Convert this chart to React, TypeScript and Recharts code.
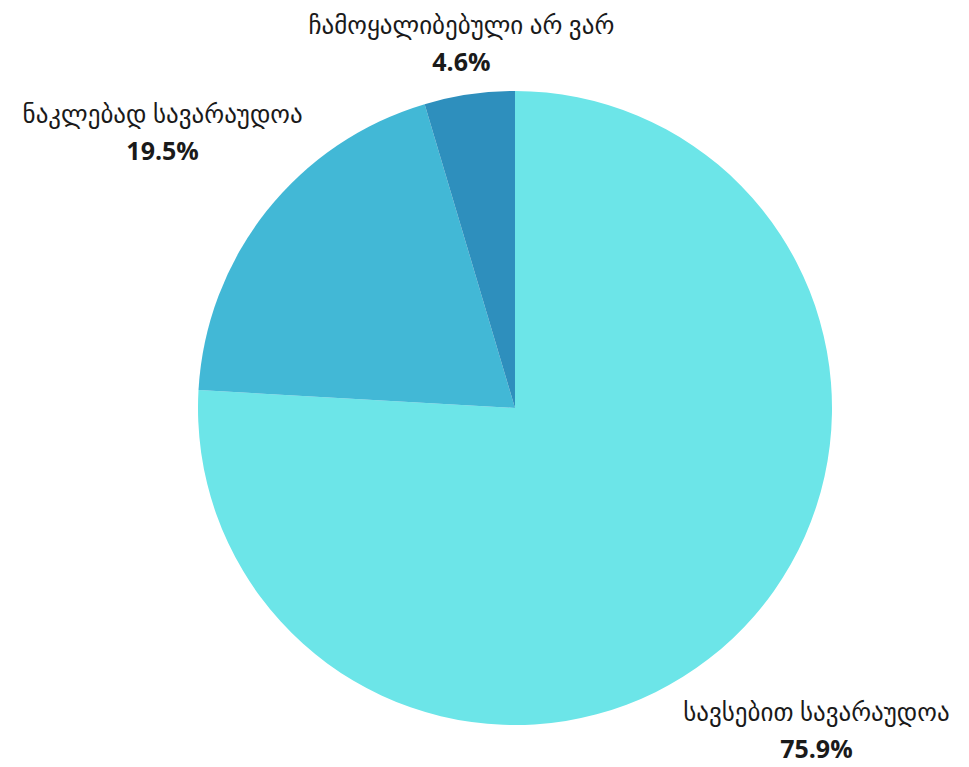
import React from "react";
import { PieChart, Pie, Cell } from "recharts";

const categories = [
  "სავსებით სავარაუდოა",
  "ნაკლებად სავარაუდოა",
  "ჩამოყალიბებული არ ვარ",
];
const values = [75.9, 19.5, 4.6];
const colors = ["#6ce5e8", "#42b8d6", "#2e8fbd"];

const data = categories.map((name, i) => ({ name, value: values[i] }));

const RAD = Math.PI / 180;
const CHAR_W = 15;
const BLOCK_H = 66;

const renderLabel = (props: any) => {
  const { cx, cy, midAngle, outerRadius, name, value } = props;
  const c = Math.cos(-midAngle * RAD);
  const s = Math.sin(-midAngle * RAD);
  const w = String(name).length * CHAR_W;
  const r = outerRadius + (w / 2) * Math.abs(c) + (BLOCK_H / 2) * Math.abs(s);
  const bx = cx + r * c;
  const by = cy + r * s;
  return (
    <g>
      <text
        x={bx}
        y={by - 16}
        textAnchor="middle"
        dominantBaseline="central"
        fill="#1a1a1a"
        style={{ fontSize: 25, fontFamily: "'Noto Sans', 'DejaVu Sans', sans-serif" }}
      >
        {name}
      </text>
      <text
        x={bx}
        y={by + 21}
        textAnchor="middle"
        dominantBaseline="central"
        fill="#1a1a1a"
        style={{ fontSize: 25, fontWeight: 700, fontFamily: "'Open Sans', 'Noto Sans', sans-serif" }}
      >
        {Number(value).toFixed(1) + "%"}
      </text>
    </g>
  );
};

export default function App() {
  return (
    <div style={{ width: 953, height: 759 }}>
      <PieChart
        width={953}
        height={759}
        margin={{ top: 0, right: 0, bottom: 0, left: 0 }}
        style={{ overflow: "visible" }}
      >
        <Pie
          data={data}
          dataKey="value"
          nameKey="name"
          cx={507}
          cy={400}
          outerRadius={317}
          startAngle={90}
          endAngle={-270}
          stroke="none"
          label={renderLabel}
          labelLine={false}
          isAnimationActive={false}
        >
          {data.map((d, i) => (
            <Cell key={d.name} fill={colors[i]} />
          ))}
        </Pie>
      </PieChart>
    </div>
  );
}
